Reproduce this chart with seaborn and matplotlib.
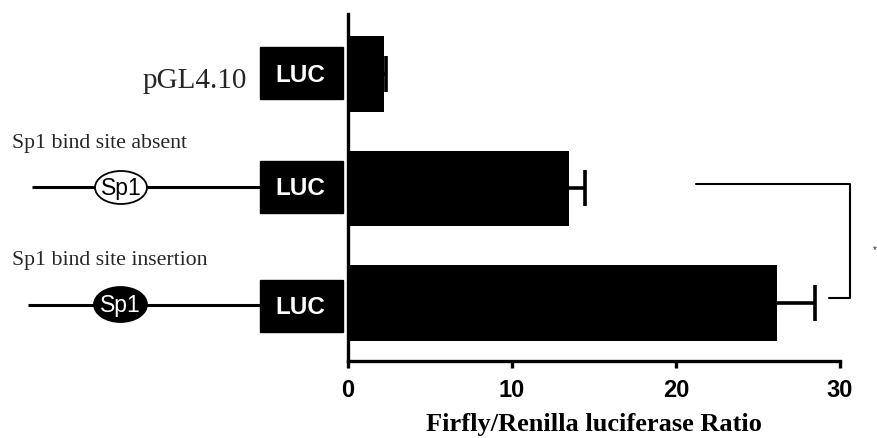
import matplotlib
matplotlib.use("Agg")
import matplotlib.pyplot as plt
import seaborn as sns
import pandas as pd
from matplotlib.patches import Ellipse, Rectangle

# Reporter constructs and their Firefly/Renilla luciferase ratios (mean, SEM)
constructs = ["pGL4.10", "Sp1 bind site absent", "Sp1 bind site insertion"]
ratio = [2.2, 13.45, 26.15]
ratio_sem = [0.1, 1.0, 2.35]
x_ticks = [0, 10, 20, 30]
x_tick_labels = ["0", "10", "20", "30"]

sns.set_theme(style="ticks")
plt.rcParams["font.family"] = ["Liberation Sans", "DejaVu Sans"]

W, H = 877, 439
fig = plt.figure(figsize=(W / 100, H / 100), dpi=100)

# Schematic panel drawn in pixel coordinates of the whole figure
sk = fig.add_axes([0, 0, 1, 1])
sk.set_xlim(0, W)
sk.set_ylim(H, 0)
sk.axis("off")

serif = ["Liberation Serif", "DejaVu Serif"]

# LUC reporter boxes
for yc in (74, 187.5, 307):
    sk.add_patch(Rectangle((260, yc - 26), 83, 52, color="black", zorder=2))
    sk.text(300, yc + 1, "LUC", color="white", fontsize=17.5, fontweight="bold",
            ha="center", va="center", zorder=3)

sk.text(247, 88, "pGL4.10", family=serif, fontsize=21, ha="right", va="baseline")
sk.text(12, 148, "Sp1 bind site absent", family=serif, fontsize=15.7, ha="left", va="baseline")
sk.text(12, 265, "Sp1 bind site insertion", family=serif, fontsize=15.7, ha="left", va="baseline")

# promoter lines with Sp1 site (open = absent, filled = inserted)
sk.plot([32, 260], [187.5, 187.5], color="black", lw=2.2, zorder=1, solid_capstyle="butt")
sk.add_patch(Ellipse((121, 188.5), 52, 33, facecolor="white", edgecolor="black", lw=1.3, zorder=2))
sk.text(121, 189, "Sp1", fontsize=16.5, ha="center", va="center", color="black", zorder=3)

sk.plot([28, 260], [305.5, 305.5], color="black", lw=2.2, zorder=1, solid_capstyle="butt")
sk.add_patch(Ellipse((120.5, 305.5), 53, 35, facecolor="black", edgecolor="black", lw=1.3, zorder=2))
sk.text(120.5, 306, "Sp1", fontsize=16.5, ha="center", va="center", color="white", zorder=3)

sk.text(873, 250, "*", fontsize=7, ha="left", va="center")

# Bar chart
ax = fig.add_axes([348 / W, (H - 362) / H, 492 / W, 347 / H])
ax.patch.set_alpha(0)
df = pd.DataFrame({"construct": constructs, "ratio": ratio})
sns.barplot(data=df, x="ratio", y="construct", orient="h", color="black",
            width=0.66, linewidth=0, saturation=1, errorbar=None, ax=ax)
eb = ax.errorbar(ratio, range(len(ratio)), xerr=[[0] * len(ratio), ratio_sem],
                 fmt="none", ecolor="black", elinewidth=2.6, capsize=13, capthick=2.6,
                 clip_on=False)
# one-sided error bars: hide the caps sitting on the bar ends
eb[1][0].set_visible(False)

ax.set_xlim(0, 30)
ax.set_ylim(2.507, -0.524)
ax.set_yticks([])
ax.set_ylabel("")
ax.set_xticks(x_ticks)
ax.set_xticklabels(x_tick_labels, fontsize=17, fontweight="bold")
ax.tick_params(axis="x", length=5, width=2.4, pad=7, color="black", labelcolor="black")
ax.set_xlabel("Firfly/Renilla luciferase Ratio", family=serif, fontweight="bold",
              fontsize=19, labelpad=8, color="black")
sns.despine(ax=ax)
for side in ("left", "bottom"):
    ax.spines[side].set_linewidth(2.4)
    ax.spines[side].set_color("black")

# significance bracket between the Sp1 constructs
ax.plot([21.2, 30.6, 30.6, 29.3], [0.96, 0.96, 1.955, 1.955],
        color="black", lw=1.5, clip_on=False)

fig.savefig("out.png", dpi=100)
